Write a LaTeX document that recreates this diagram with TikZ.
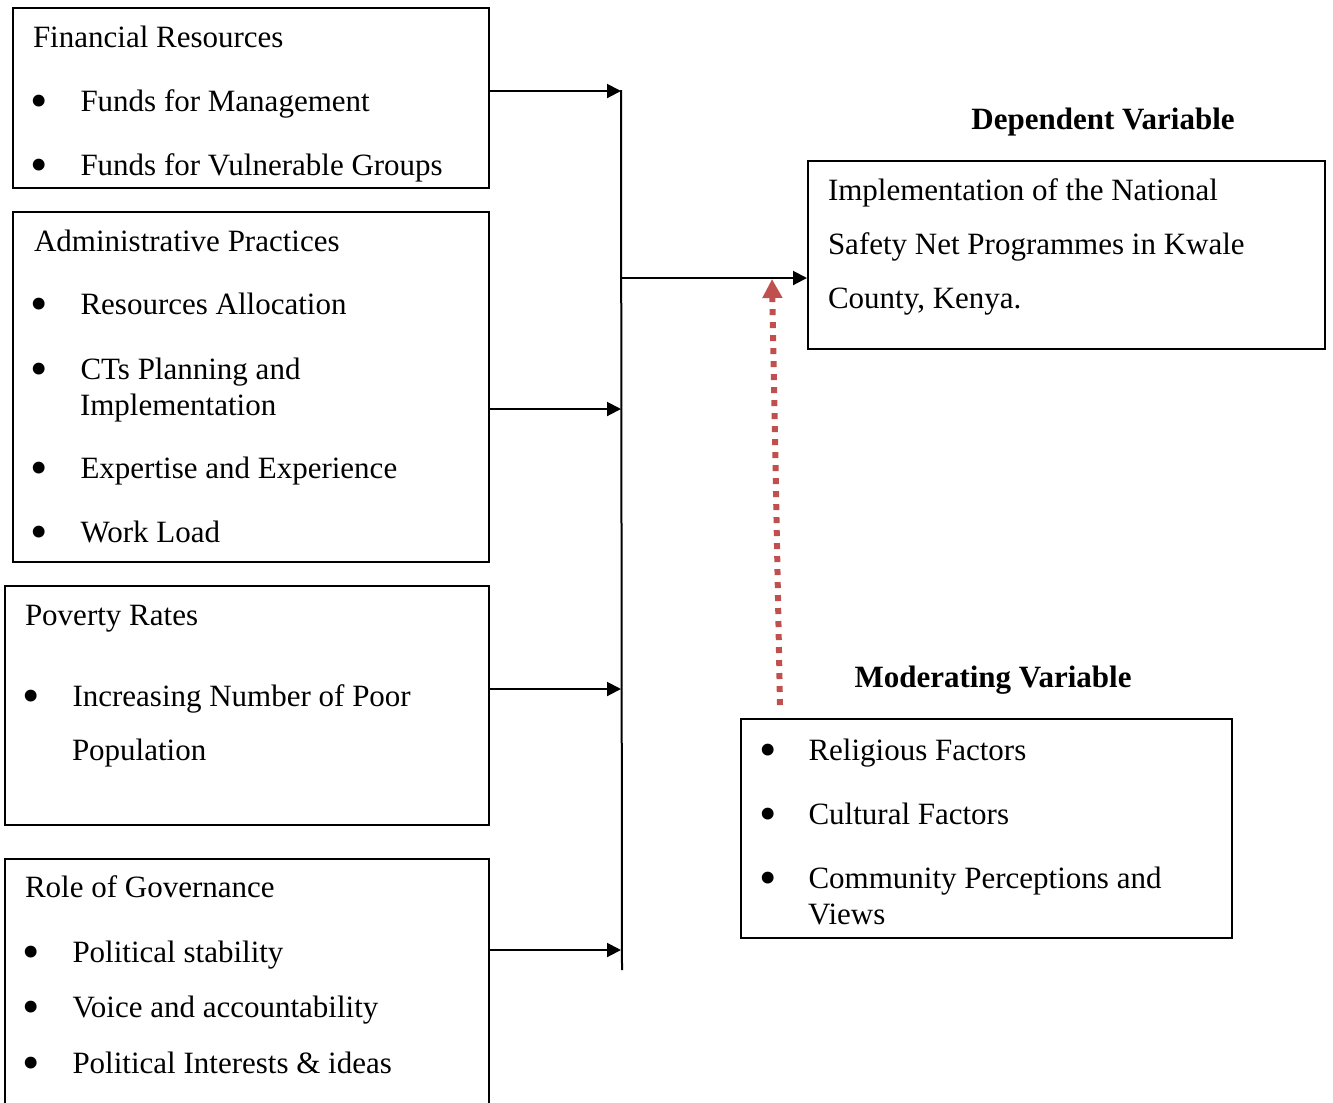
\documentclass[tikz,border=0pt]{standalone}
\usepackage{fontspec}
\setmainfont{Liberation Serif}
\usetikzlibrary{arrows.meta}
\usetikzlibrary{fit}

\definecolor{modred}{HTML}{C0504D}
\newcommand{\itm}[1]{\makebox[18.6pt][l]{\hspace{-1.2pt}\raisebox{-2.6pt}{\scalebox{1.6}{\textbullet}}}#1}

\begin{document}
\begin{tikzpicture}[x=0.4pt,y=-0.4pt,line width=0.8pt,
  font=\fontsize{12.4}{14.4}\selectfont,
  box/.style={draw,inner sep=0pt},
  txt/.style={anchor=base west,inner sep=0pt},
  head/.style={anchor=base,inner sep=0pt,font=\fontsize{12.4}{14.4}\selectfont\bfseries},
  link/.style={-{Triangle[length=5.6pt,width=5.6pt]}}]
\useasboundingbox (0,0) rectangle (1333,1102);

% independent variables
\node[box,fit={(13,8) (489,188)}] (fin) {};
\node[txt] (fin0) at (32,47) {Financial Resources};
\node[txt] (fin1) at (33,111) {\itm{Funds for Management}};
\node[txt] (fin2) at (33,175) {\itm{Funds for Vulnerable Groups}};

\node[box,fit={(13,212) (489,562)}] (adm) {};
\node[txt] (adm0) at (33,251) {Administrative Practices};
\node[txt] (adm1) at (33,314) {\itm{Resources Allocation}};
\node[txt] (adm2) at (33,379) {\itm{CTs Planning and}};
\node[txt] (adm2b) at (79,415) {Implementation};
\node[txt] (adm3) at (33,478) {\itm{Expertise and Experience}};
\node[txt] (adm4) at (33,542) {\itm{Work Load}};

\node[box,fit={(5,586) (489,825)}] (pov) {};
\node[txt] (pov0) at (24,625) {Poverty Rates};
\node[txt] (pov1) at (25,706) {\itm{Increasing Number of Poor}};
\node[txt] (pov1b) at (71,760) {Population};

\node[box,fit={(5,859) (489,1120)}] (gov) {};
\node[txt] (gov0) at (24,897) {Role of Governance};
\node[txt] (gov1) at (25,962) {\itm{Political stability}};
\node[txt] (gov2) at (25,1017) {\itm{Voice and accountability}};
\node[txt] (gov3) at (25,1073) {\itm{Political Interests \& ideas}};

% dependent variable
\node[head] (dephead) at (1103,129) {Dependent Variable};
\node[box,fit={(808,161) (1325,349)}] (dep) {};
\node[txt] (dep1) at (827,200) {Implementation of the National};
\node[txt] (dep2) at (827,254) {Safety Net Programmes in Kwale};
\node[txt] (dep3) at (827,308) {County, Kenya.};

% moderating variable
\node[head] (modhead) at (993,687) {Moderating Variable};
\node[box,fit={(741,719) (1232,938)}] (mod) {};
\node[txt] (mod1) at (761,760) {\itm{Religious Factors}};
\node[txt] (mod2) at (761,824) {\itm{Cultural Factors}};
\node[txt] (mod3) at (761,888) {\itm{Community Perceptions and}};
\node[txt] (mod3b) at (807,924) {Views};

% connectors
\coordinate (bustop) at (621,90);
\coordinate (busbot) at (622,970);
\coordinate (b1) at (621,91);
\coordinate (b2) at (621,409);
\coordinate (b3) at (621,689);
\coordinate (b4) at (621,950);
\coordinate (bm) at (621,278);
\draw (bustop) -- (busbot);
\draw[link] (fin.east |- b1) -- (b1);
\draw[link] (adm.east |- b2) -- (b2);
\draw[link] (pov.east |- b3) -- (b3);
\draw[link] (gov.east |- b4) -- (b4);
\draw[link] (bm) -- (dep.west |- bm);

\coordinate (modtop) at (780,705);
\coordinate (deptip) at (772,279);
\draw[modred,line width=2.4pt,dash pattern=on 2.4pt off 2.8pt,
  -{Triangle[length=7.6pt,width=7.6pt]}] (modtop) -- (deptip);
\end{tikzpicture}
\end{document}
